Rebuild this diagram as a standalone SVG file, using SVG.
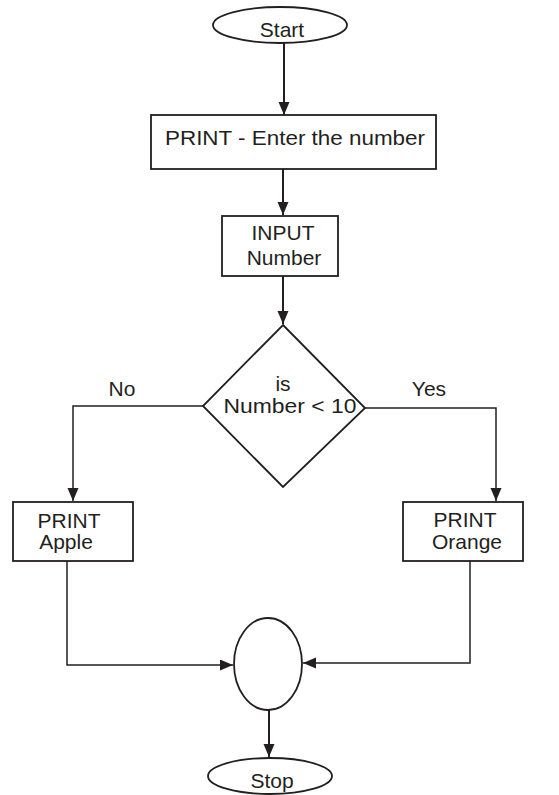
<svg xmlns="http://www.w3.org/2000/svg" width="559" height="795" viewBox="0 0 559 795">
<defs>
<style>
.s{fill:#fff;stroke:#231f20;stroke-width:1.8}
.t{font-family:"Liberation Sans",Arial,sans-serif;font-size:21px;fill:#231f20;text-anchor:middle}
.c{fill:none;stroke:#231f20;stroke-width:2}
.b{fill:none;stroke:#231f20;stroke-width:1.5}
</style>
<marker id="ah" markerUnits="userSpaceOnUse" markerWidth="14" markerHeight="12" refX="13" refY="5.5" orient="auto">
<path d="M0,0 L13,5.5 L0,11 z" fill="#231f20"/>
</marker>
</defs>
<rect width="559" height="795" fill="#fff"/>
<g id="connectors">
<path class="c" d="M284,43 V115" marker-end="url(#ah)"/>
<path class="c" d="M283,169 V215" marker-end="url(#ah)"/>
<path class="c" d="M283,276 V324" marker-end="url(#ah)"/>
<path class="b" d="M203,406 H73 V501" marker-end="url(#ah)"/>
<path class="b" d="M365,408 H496 V501" marker-end="url(#ah)"/>
<path class="b" d="M67,561 V665 H233" marker-end="url(#ah)"/>
<path class="b" d="M470,561 V663 H303" marker-end="url(#ah)"/>
<path class="c" d="M269,710 V757" marker-end="url(#ah)"/>
<text class="t" x="122" y="396">No</text>
<text class="t" x="429" y="396">Yes</text>
</g>
<g id="start">
<ellipse class="s" cx="280" cy="25" rx="67" ry="18"/>
<text class="t" x="282" y="37">Start</text>
</g>
<g id="print-enter">
<rect class="s" x="151" y="115" width="285" height="54"/>
<text class="t" x="295" y="145" font-size="19" textLength="260" lengthAdjust="spacingAndGlyphs">PRINT - Enter the number</text>
</g>
<g id="input">
<rect class="s" x="222" y="216" width="116" height="60"/>
<text class="t" x="283" y="240">INPUT</text>
<text class="t" x="284" y="265">Number</text>
</g>
<g id="decision">
<polygon class="s" points="283,325 365,408 283,487 203,406"/>
<text class="t" x="283" y="391">is</text>
<text class="t" x="290" y="413" textLength="133" lengthAdjust="spacingAndGlyphs">Number &lt; 10</text>
</g>
<g id="print-apple">
<rect class="s" x="13" y="502" width="120" height="59"/>
<text class="t" x="69" y="528">PRINT</text>
<text class="t" x="66" y="549">Apple</text>
</g>
<g id="print-orange">
<rect class="s" x="403" y="502" width="120" height="59"/>
<text class="t" x="465" y="527">PRINT</text>
<text class="t" x="467" y="549">Orange</text>
</g>
<g id="join">
<ellipse class="s" cx="268" cy="664" rx="34" ry="46"/>
</g>
<g id="stop">
<ellipse class="s" cx="270" cy="776" rx="62" ry="18"/>
<text class="t" x="272" y="788">Stop</text>
</g>
</svg>
